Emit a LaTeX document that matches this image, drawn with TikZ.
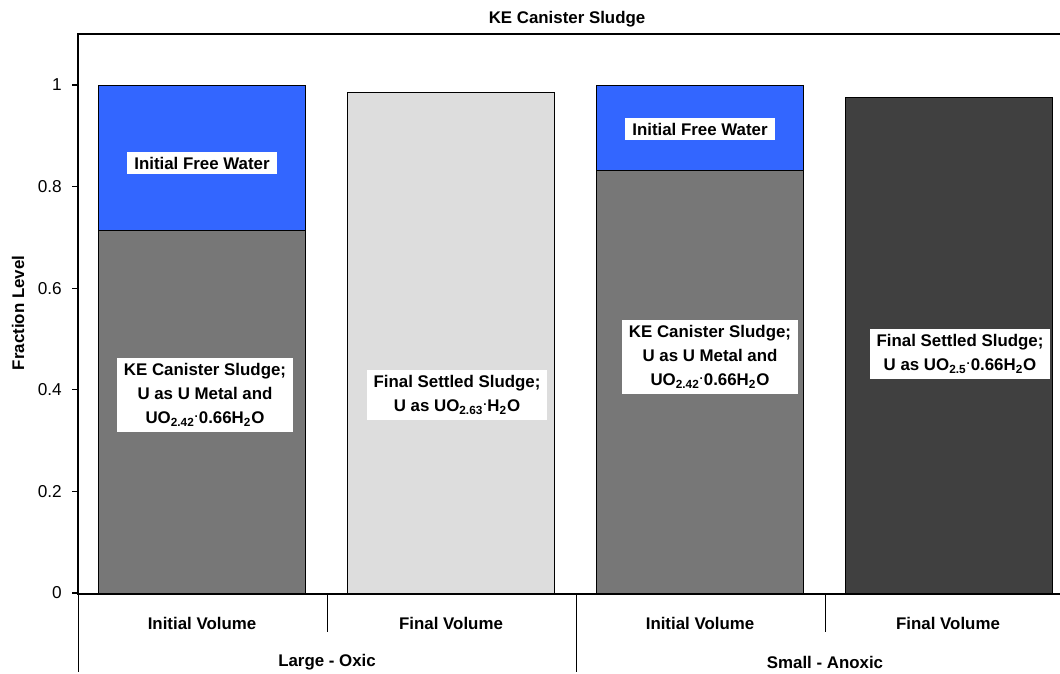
\documentclass[tikz,border=0pt]{standalone}
\usepackage{fontspec}
\setmainfont{Liberation Sans}
\definecolor{waterblue}{HTML}{3366FF}
\definecolor{sludgegray}{HTML}{777777}
\definecolor{lightsludge}{HTML}{DDDDDD}
\definecolor{darksludge}{HTML}{404040}
\newcommand{\hyd}[1]{UO\textsubscript{#1}\textsuperscript{.}}
\begin{document}
\begin{tikzpicture}[x=0.02cm,y=-0.02cm,
    lbl/.style={fill=white,font=\fontsize{9.6}{13.6}\selectfont\bfseries,align=center,inner xsep=4pt,inner ysep=3pt},
    txt/.style={font=\fontsize{9.6}{12}\selectfont\bfseries},
    tick/.style={font=\fontsize{9.8}{12}\selectfont},
    bar/.style={draw=black,line width=0.5pt}]
    \useasboundingbox (0,0) rectangle (1060,673);

    % frame and axes
    \coordinate (O) at (78,594);
    \coordinate (T) at (78,34);
    \draw[line width=0.9pt] (1060,34) -- (T) -- (O) -- (1060,594);

    % ticks
    \foreach \v/\t in {0/0,0.2/0.2,0.4/0.4,0.6/0.6,0.8/0.8,1/1}{
        \draw[line width=0.7pt] (72,{593-508*\v}) -- (78,{593-508*\v});
        \node[tick,anchor=east] at (68,{593-508*\v}) {\t};
    }

    % bars
    \filldraw[bar,fill=sludgegray] (98,594) rectangle (305,230);
    \filldraw[bar,fill=waterblue] (98,230) rectangle (305,85);
    \filldraw[bar,fill=lightsludge] (347,594) rectangle (554,92);
    \filldraw[bar,fill=sludgegray] (596,594) rectangle (803,170);
    \filldraw[bar,fill=waterblue] (596,170) rectangle (803,85);
    \filldraw[bar,fill=darksludge] (845,594) rectangle (1052,97);
    \draw[line width=0.9pt] (O) -- (1060,594);

    % labels in bars
    \node[lbl] (water1) at (202,163) {Initial Free Water};
    \node[lbl] (sludge1) at (205,395) {KE Canister Sludge;\\U as U Metal and\\\hyd{2.42}0.66H\textsubscript{2}O};
    \node[lbl] (final1) at (457,395) {Final Settled Sludge;\\U as \hyd{2.63}H\textsubscript{2}O};
    \node[lbl] (water2) at (700,129) {Initial Free Water};
    \node[lbl] (sludge2) at (710,357) {KE Canister Sludge;\\U as U Metal and\\\hyd{2.42}0.66H\textsubscript{2}O};
    \node[lbl] (final2) at (960,354) {Final Settled Sludge;\\U as \hyd{2.5}0.66H\textsubscript{2}O};

    % category axis
    \draw[line width=0.5pt] (O) -- (78,672);
    \draw[line width=0.5pt] (576,594) -- (576,672);
    \draw[line width=0.5pt] (327,594) -- (327,632);
    \draw[line width=0.5pt] (825,594) -- (825,632);
    \node[txt] (cat1) at (202,623) {Initial Volume};
    \node[txt] (cat2) at (451,623) {Final Volume};
    \node[txt] (cat3) at (700,623) {Initial Volume};
    \node[txt] (cat4) at (948,623) {Final Volume};
    \node[txt] (grp1) at (327,662) {Large - Oxic};
    \node[txt] (grp2) at (825,662) {Small - Anoxic};

    % titles
    \node[txt] (title) at (567,19) {KE Canister Sludge};
    \node[txt,rotate=90] (ylab) at (18,313) {Fraction Level};
\end{tikzpicture}
\end{document}
